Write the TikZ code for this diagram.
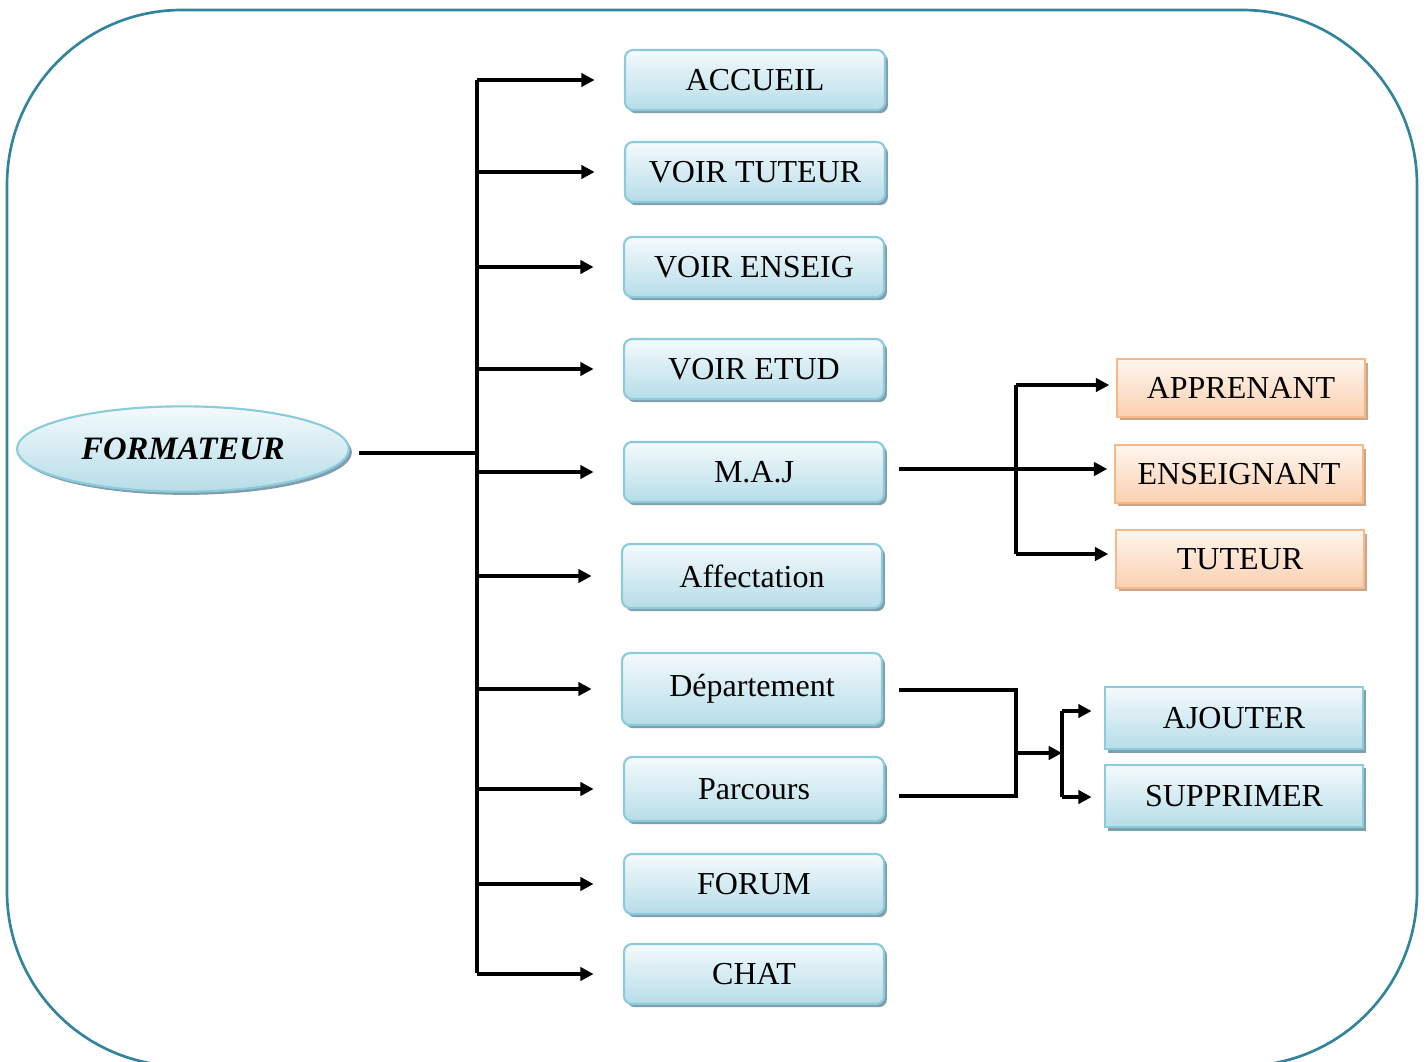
\documentclass[tikz,border=0pt]{standalone}
\usepackage{fontspec}
\setmainfont{Liberation Serif}
\usetikzlibrary{arrows.meta,shadows,shapes.geometric}

\definecolor{framecol}{RGB}{49,132,155}
\definecolor{bluetop}{RGB}{244,250,252}
\definecolor{bluebot}{RGB}{182,221,232}
\definecolor{blueline}{RGB}{140,203,219}
\definecolor{blueshadow}{RGB}{128,158,172}
\definecolor{orangetop}{RGB}{255,246,238}
\definecolor{orangebot}{RGB}{250,208,176}
\definecolor{orangeline}{RGB}{247,184,136}
\definecolor{orangeshadow}{RGB}{200,166,140}

\tikzset{
  menubox/.style={draw=blueline, line width=1.6pt, rounded corners=6pt,
    top color=bluetop, bottom color=bluebot,
    drop shadow={shadow xshift=2.2pt, shadow yshift=-2.4pt, fill=blueshadow, opacity=1},
    minimum width=195pt, minimum height=45pt, inner sep=0pt,
    font=\fontsize{24}{29}\selectfont},
  subbox/.style={draw=blueline, line width=1.6pt,
    top color=bluetop, bottom color=bluebot,
    drop shadow={shadow xshift=2.2pt, shadow yshift=-2.4pt, fill=blueshadow, opacity=1},
    minimum width=194pt, minimum height=47pt, inner sep=0pt,
    font=\fontsize{24}{29}\selectfont},
  rolebox/.style={draw=orangeline, line width=1.6pt,
    top color=orangetop, bottom color=orangebot,
    drop shadow={shadow xshift=2.2pt, shadow yshift=-2.4pt, fill=orangeshadow, opacity=1},
    minimum width=186pt, minimum height=43pt, inner sep=0pt,
    font=\fontsize{24}{29}\selectfont},
  rootnode/.style={ellipse, draw=blueline, line width=1.6pt,
    top color=bluetop, bottom color=bluebot,
    drop shadow={shadow xshift=2.2pt, shadow yshift=-2.4pt, fill=blueshadow, opacity=1},
    minimum width=249pt, minimum height=64pt, inner sep=0pt,
    font=\fontsize{24.5}{29}\selectfont\bfseries\itshape},
  link/.style={line width=3pt, draw=black},
  arr/.style={link, -{Triangle[length=10pt,width=10pt]}},
}

\begin{document}
\begin{tikzpicture}[x=0.75pt,y=-0.75pt]
\useasboundingbox (0,0) rectangle (1427,1061);

% outer frame
\begin{scope}
  \clip (0,0) rectangle (1427,1061);
  \draw[framecol, line width=2pt, rounded corners=131pt] (7,10) rectangle (1417,1066);
\end{scope}

% root
\node[rootnode] (root) at (183,449) {FORMATEUR};

% main menu
\node[menubox] (acc)  at (755,80)  {ACCUEIL};
\node[menubox] (vtut) at (755,172) {VOIR TUTEUR};
\node[menubox] (vens) at (754,267) {VOIR ENSEIG};
\node[menubox] (vetu) at (754,369) {VOIR ETUD};
\node[menubox] (maj)  at (754,472) {M.A.J};
\node[menubox, minimum height=48pt] (aff) at (752,576) {Affectation};
\node[menubox, minimum height=54pt] (dep) at (752,689) {Département};
\node[menubox, minimum height=48pt] (par) at (754,789) {Parcours};
\node[menubox] (for)  at (754,884) {FORUM};
\node[menubox] (chat) at (754,974) {CHAT};

% M.A.J targets
\node[rolebox] (app) at (1241,388) {APPRENANT};
\node[rolebox] (ens) at (1239,474) {ENSEIGNANT};
\node[rolebox] (tut) at (1240,559) {TUTEUR};

% actions
\node[subbox] (ajo) at (1234,718) {AJOUTER};
\node[subbox] (sup) at (1234,796) {SUPPRIMER};

% trunk
\coordinate (ttop) at (477,80);
\coordinate (tbot) at (477,973);
\coordinate (rootend) at (477,453);
\draw[link] ([xshift=7pt]root.east |- rootend) -- (rootend);
\draw[link] (ttop) -- (tbot);
\foreach \n in {acc,vtut,vens,vetu,maj,aff,dep,par,for,chat}
  \draw[arr] (ttop |- \n.west) -- ([xshift=-22pt]\n.west);

% M.A.J branch
\coordinate (mstart) at (899,469);
\coordinate (mtop) at (1016,385);
\coordinate (mbot) at (1016,554);
\draw[arr] (mstart) -- ([xshift=-5pt]ens.west |- mstart);
\draw[link] (mtop) -- (mbot);
\draw[arr] (mtop) -- ([xshift=-5pt]app.west |- mtop);
\draw[arr] (mbot) -- ([xshift=-5pt]tut.west |- mbot);

% Département / Parcours merge
\coordinate (dstart) at (899,690);
\coordinate (pstart) at (899,796);
\coordinate (jx) at (1016,753);
\coordinate (sx) at (1062,753);
\coordinate (stop) at (1062,711);
\coordinate (sbot) at (1062,797);
\draw[link] (dstart) -| (jx) |- (pstart);
\draw[arr] (jx) -- (sx);
\draw[link] (stop) -- (sbot);
\draw[arr] (stop) -- ([xshift=-9pt]ajo.west |- stop);
\draw[arr] (sbot) -- ([xshift=-9pt]sup.west |- sbot);
\end{tikzpicture}
\end{document}
